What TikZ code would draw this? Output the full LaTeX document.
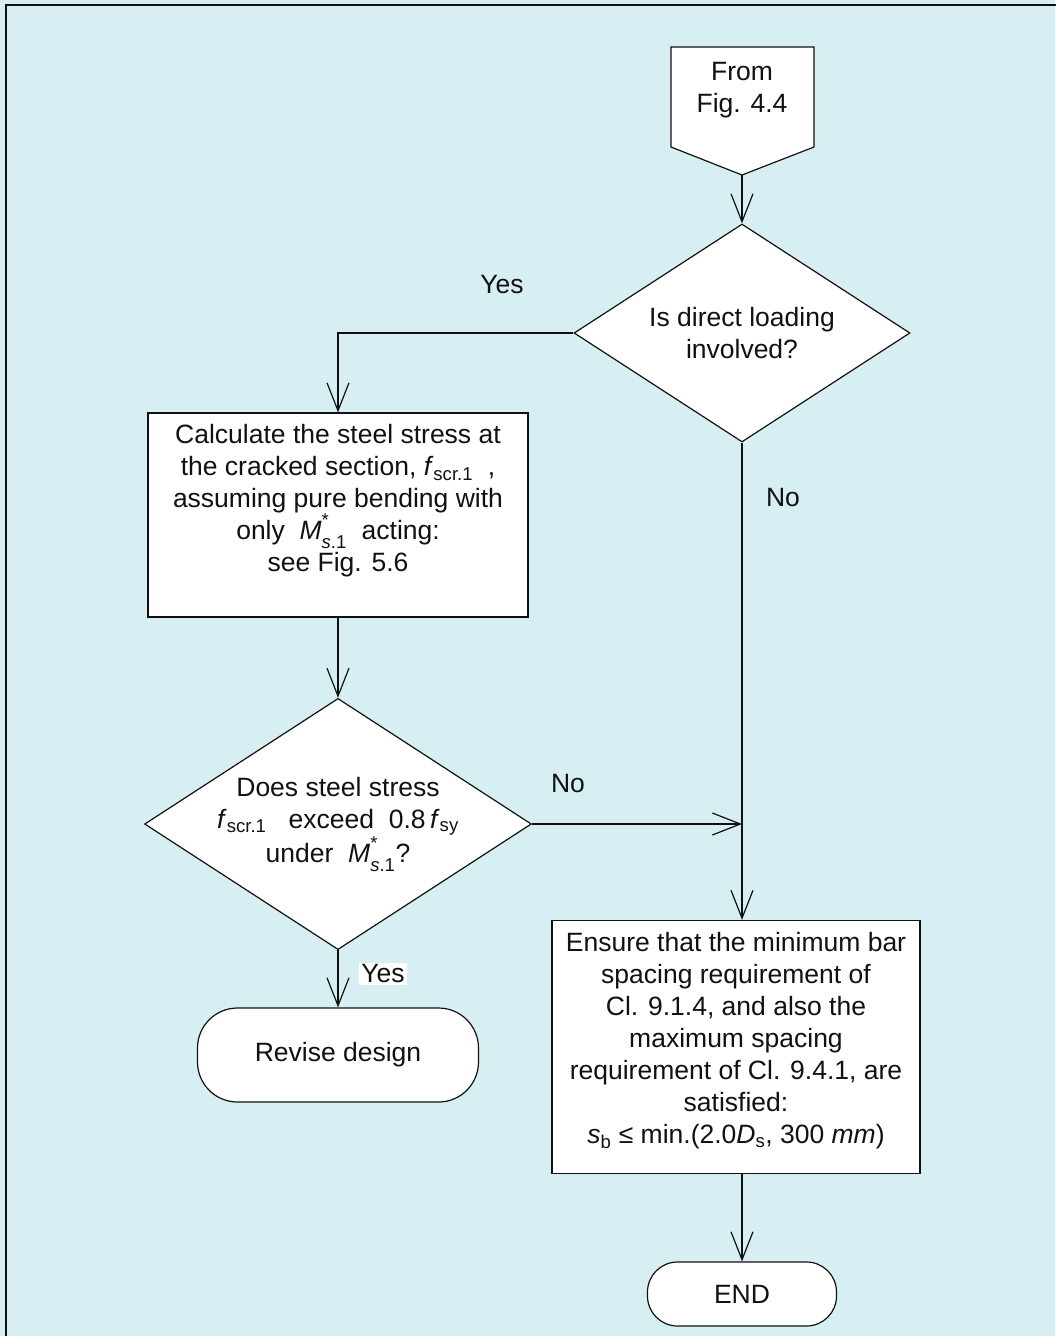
\documentclass[tikz,border=0pt]{standalone}
\usepackage{fontspec}
\setmainfont{Liberation Sans}
\usepackage{tikz}
\usetikzlibrary{arrows.meta,positioning,calc,shapes.geometric}
\definecolor{bgcyan}{HTML}{D7EEF2}
\definecolor{ink}{HTML}{111111}
\newcommand{\fscr}{\textit{f}\textsubscript{scr.1}}
\newcommand{\fsy}{\textit{f}\textsubscript{sy}}
\newcommand{\Mst}{\textit{M}\rlap{\raisebox{0.3ex}{\textsuperscript{*}}}\raisebox{-0.3ex}{\textsubscript{\textit{s}.1}}}

\begin{document}
\begin{tikzpicture}[x=1pt,y=-1pt,line width=1.2pt,draw=ink,
    every node/.style={font=\fontsize{26.5}{32}\selectfont,text=ink},
    box/.style={draw,fill=white,minimum width=380pt,minimum height=204pt,inner sep=0pt},
    txt/.style={align=center,inner sep=0pt},
    decide/.style={draw,fill=white,diamond,inner sep=0pt,align=center,shape aspect=1.54},
    term/.style={draw,fill=white,align=center,inner sep=0pt},
    lbl/.style={inner sep=2pt},
    arr/.style={-{Straight Barb[length=28pt,width=22pt]}}]
    \useasboundingbox (0,0) rectangle (1055,1336);
    \fill[bgcyan] (0,0) rectangle (1055,1336);
    \draw (6,5) rectangle (1070,1350);

    \coordinate (fromtip) at (742,175);
    \draw[fill=white] (671,47) -- (814,47) -- (814,147) -- (fromtip) -- (671,147) -- cycle;
    \node[txt] (from) at (742,90) {From\\Fig. 4.4};

    \node[decide,minimum width=336pt,minimum height=218pt] (direct) at (742,333) {Is direct loading\\involved?};
    \node[box] (calc) at (338,515) {};
    \node[txt] (calctxt) at (338,501) {Calculate the steel stress at\\the cracked section, \fscr\ \ ,\\assuming pure bending with\\only \ \Mst\ \ acting:\\see Fig. 5.6};
    \node[decide,minimum width=378pt,minimum height=248pt] (exceed) at (338,824) {Does steel stress\\\fscr\ \ \ exceed \ 0.8\,\fsy\\under \ \Mst?};
    \node[term,minimum width=281pt,minimum height=94pt,rounded corners=40pt] (revise) at (338,1055) {Revise design};
    \node[box,minimum width=368pt,minimum height=253pt] (ensure) at (736,1047) {};
    \node[txt] (ensuretxt) at (736,1041) {Ensure that the minimum bar\\spacing requirement of\\Cl. 9.1.4, and also the\\maximum spacing\\requirement of Cl. 9.4.1, are\\satisfied:\\\textit{s}\textsubscript{b} ≤ min.(2.0\textit{D}\textsubscript{s}, 300 \textit{mm})};
    \node[term,minimum width=189pt,minimum height=64pt,rounded corners=30pt] (finish) at (742,1294) {END};

    \node[lbl] (yes1) at (502,285) {Yes};
    \node[lbl] (no1) at (783,498) {No};
    \node[lbl] (no2) at (568,784) {No};
    \node[lbl,fill=white] (yes2) at (383,974) {Yes};

    \coordinate (join) at (direct.south |- exceed.east);
    \draw[arr] (fromtip) -- (direct.north);
    \draw[arr] (direct.west) -| (calc.north);
    \draw[arr] (calc.south) -- (exceed.north);
    \draw[arr] (exceed.east) -- (join);
    \draw[arr] (exceed.south) -- (revise.north);
    \draw[arr] (direct.south) -- (direct.south |- ensure.north);
    \draw[arr] (direct.south |- ensure.south) -- (finish.north);
  \end{tikzpicture}
\end{document}
